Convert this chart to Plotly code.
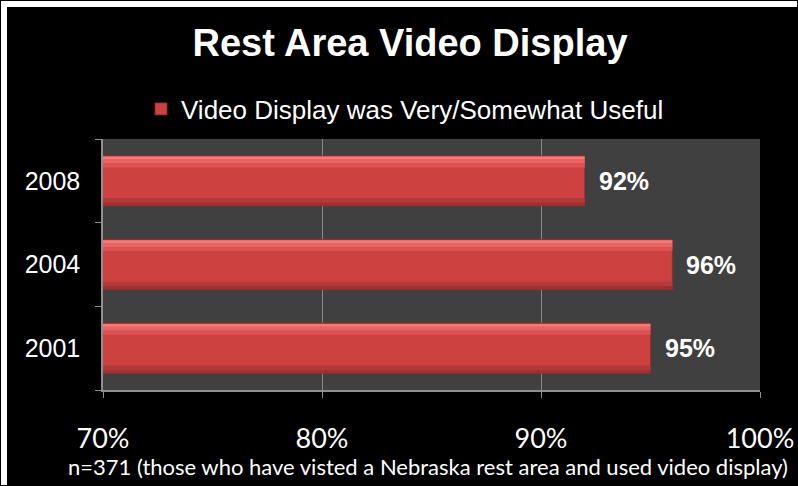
import plotly.graph_objects as go

# Survey results: share of visitors who found the rest-area video display useful
years = ["2001", "2004", "2008"]
useful_pct = [95, 96, 92]
x_ticks = [70, 80, 90, 100]
x_tick_labels = ["70%", "80%", "90%", "100%"]

series_name = "Video Display was Very/Somewhat Useful"
title_text = "Rest Area Video Display"
footnote = "n=371 (those who have visted a Nebraska rest area and used video display)"

W, H = 798, 486
M_L, M_R, M_T, M_B = 103, 38, 139, 96
PW = W - M_L - M_R
PH = H - M_T - M_B

ARIAL = "Liberation Sans, Arial, sans-serif"
CAL = "Lato, Carlito, Calibri, sans-serif"

fig = go.Figure()

# main bar body
fig.add_trace(go.Bar(
    y=years, x=useful_pct, orientation="h", name=series_name,
    width=0.6, offset=-0.3,
    marker=dict(color="#cd4141", line=dict(color="#8e2a2a", width=0.8)),
    hoverinfo="x+y",
))
# shading strips to give the bars a rounded, glossy look
strips = [
    (0.045, -0.30, "#9c3131"),
    (0.05, -0.255, "#b33a3a"),
    (0.05, 0.16, "#db5252"),
    (0.045, 0.21, "#ea6464"),
    (0.035, 0.255, "#f27a7a"),
]
for w, off, col in strips:
    fig.add_trace(go.Bar(
        y=years, x=useful_pct, orientation="h", showlegend=False,
        width=w, offset=off, marker=dict(color=col, line=dict(width=0)),
        hoverinfo="skip",
    ))

# value labels beside the bar ends (category axis position = index)
for i, v in enumerate(useful_pct):
    fig.add_annotation(
        x=v, y=i, text=f"{v}%", showarrow=False, xanchor="left",
        xshift=12, font=dict(family=ARIAL, size=25, color="white", weight="bold"),
    )

# footnote
fig.add_annotation(
    text=footnote, xref="paper", yref="paper",
    x=(428 - M_L) / PW, y=-(466 - M_T - PH) / PH,
    xanchor="center", yanchor="middle", showarrow=False,
    font=dict(family=CAL, size=22, color="white"),
)

# thin white frame strips along the top and left edges (kept inside the page)
edge = 7
px = lambda v: (v - M_L) / PW
py = lambda v: 1 - (v - M_T) / PH
fig.add_shape(type="rect", xref="paper", yref="paper", layer="above",
              x0=px(1), x1=px(W - 1), y0=py(edge), y1=py(1),
              fillcolor="white", line=dict(width=0))
fig.add_shape(type="rect", xref="paper", yref="paper", layer="above",
              x0=px(1), x1=px(edge), y0=py(H - 1), y1=py(1),
              fillcolor="white", line=dict(width=0))

fig.update_layout(
    width=W, height=H, autosize=False,
    margin=dict(l=M_L, r=M_R, t=M_T, b=M_B, autoexpand=False),
    paper_bgcolor="black", plot_bgcolor="#404040",
    barmode="overlay", bargap=0.4,
    title=dict(text=title_text, x=410 / W, xanchor="center",
               y=1 - 43 / H, yanchor="middle", yref="container",
               font=dict(family=ARIAL, size=38, color="white", weight="bold")),
    legend=dict(orientation="h", x=px(405), xanchor="center", xref="paper",
                y=py(109), yanchor="middle", yref="paper",
                font=dict(family=ARIAL, size=26, color="white"),
                bgcolor="rgba(0,0,0,0)", itemwidth=30),
    xaxis=dict(range=[70, 100], tickvals=x_ticks, ticktext=x_tick_labels,
               automargin=False,
               showgrid=True, gridcolor="#8a8a8a", gridwidth=1,
               showline=True, linecolor="#8f8f8f", linewidth=1.5,
               ticks="outside", ticklen=6, tickcolor="#8f8f8f",
               ticklabelstandoff=18, zeroline=False,
               tickfont=dict(family=CAL, size=27, color="white")),
    yaxis=dict(type="category", categoryorder="array", categoryarray=years,
               range=[-0.5, len(years) - 0.5], autorange=False, automargin=False,
               showgrid=False, showline=True, linecolor="#8f8f8f", linewidth=1.5,
               ticks="outside", ticklen=6, tickcolor="#8f8f8f",
               tickson="boundaries", ticklabelstandoff=16,
               tickfont=dict(family=ARIAL, size=25, color="white")),
)

fig.write_html("out.html")
